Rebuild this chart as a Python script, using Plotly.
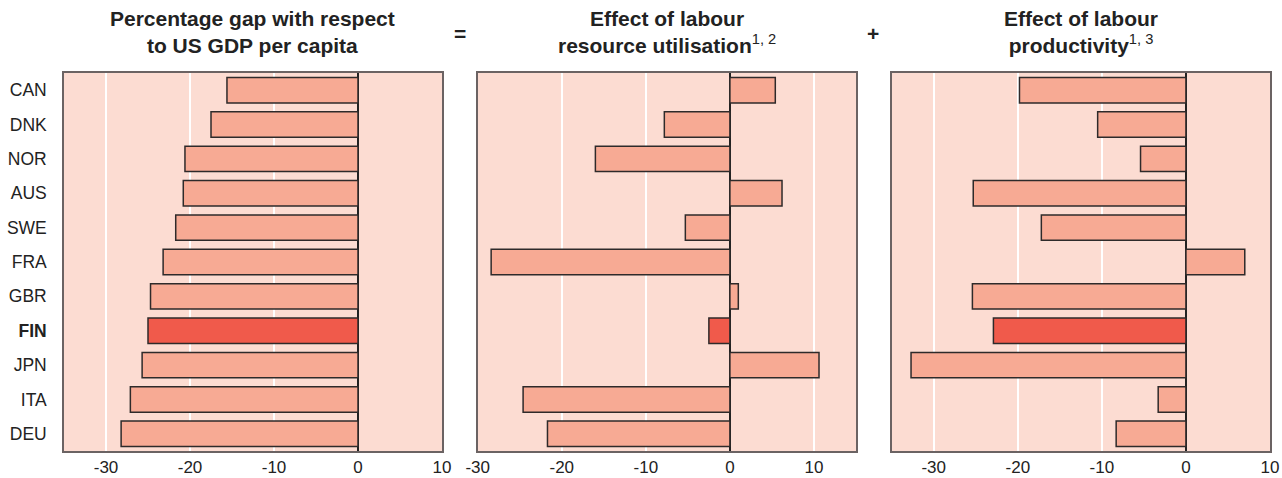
import plotly.graph_objects as go

countries = ["CAN", "DNK", "NOR", "AUS", "SWE", "FRA", "GBR", "FIN", "JPN", "ITA", "DEU"]
gdp_gap = [-15.6, -17.5, -20.6, -20.8, -21.7, -23.2, -24.7, -25.0, -25.7, -27.1, -28.2]
labour_util = [5.4, -7.8, -16.0, 6.2, -5.3, -28.4, 1.0, -2.5, 10.6, -24.6, -21.7]
labour_prod = [-19.8, -10.5, -5.4, -25.3, -17.2, 7.0, -25.4, -22.9, -32.7, -3.3, -8.3]
highlight = "FIN"
x_ticks = [-30, -20, -10, 0, 10]
titles = ["Percentage gap with respect<br>to US GDP per capita",
          "Effect of labour<br>resource utilisation<sup><span style='font-weight:normal'>1, 2</span></sup>",
          "Effect of labour<br>productivity<sup><span style='font-weight:normal'>1, 3</span></sup>"]
operators = ["=", "+"]

W, H = 1282, 478
ML, MR, MT, MB = 64, 12, 73, 27
PW, PH = W - ML - MR, H - MT - MB

def px(x):
    return (x - ML) / PW

def py(y):
    return 1 - (y - MT) / PH

BG = "#FCDCD2"
BAR = "#F7AA94"
HL = "#F05A4B"
FONT = "Liberation Sans, Arial, sans-serif"

panels = [(63.7, 442.0, [-35, 10], gdp_gap),
          (477.7, 856.0, [-30, 15], labour_util),
          (891.7, 1270.0, [-35, 10], labour_prod)]

fig = go.Figure()
colors = [HL if c == highlight else BAR for c in countries]
ticktext_y = ["<b>%s</b>" % c if c == highlight else c for c in countries]

for i, (x0, x1, rng, vals) in enumerate(panels):
    sfx = "" if i == 0 else str(i + 1)
    fig.add_trace(go.Bar(
        x=vals, y=countries, orientation="h",
        marker=dict(color=colors, line=dict(color="#2e2a2a", width=1.5)),
        xaxis="x" + sfx, yaxis="y" + sfx, showlegend=False, hoverinfo="x+y"))
    fig.layout["xaxis" + sfx] = dict(
        domain=[max(0, px(x0)), min(1, px(x1))], range=rng, anchor="y" + sfx,
        tickvals=x_ticks, ticktext=[str(t) for t in x_ticks], automargin=False,
        showgrid=True, gridcolor="white", gridwidth=1.5,
        zeroline=True, zerolinecolor="#222222", zerolinewidth=1.5,
        showline=True, linecolor="#6b6363", linewidth=1.5, mirror=True,
        ticks="",
        tickfont=dict(family=FONT, size=17, color="#222222"), fixedrange=True)
    fig.layout["yaxis" + sfx] = dict(
        domain=[0, 1], anchor="x" + sfx, automargin=False,
        categoryorder="array", categoryarray=countries, autorange="reversed",
        tickvals=countries, ticktext=ticktext_y, showticklabels=(i == 0),
        showgrid=False, zeroline=False,
        showline=True, linecolor="#6b6363", linewidth=1.5, mirror=True,
        ticks="", ticklabelstandoff=12,
        tickfont=dict(family=FONT, size=17.5, color="#222222"), fixedrange=True)
    fig.add_shape(type="rect", xref="x" + sfx + " domain", yref="y" + sfx + " domain",
                  x0=0, x1=1, y0=0, y1=1, fillcolor=BG, line_width=0, layer="below")
    fig.add_annotation(text=titles[i], x=px((x0 + x1) / 2), y=py(32),
                       xref="paper", yref="paper", xanchor="center", yanchor="middle",
                       showarrow=False, align="center",
                       font=dict(family=FONT, size=21, color="#222222", weight="bold"))

for op, xp in zip(operators, [460, 873]):
    fig.add_annotation(text="<b>%s</b>" % op, x=px(xp), y=py(33), xref="paper", yref="paper",
                       xanchor="center", yanchor="middle", showarrow=False,
                       font=dict(family=FONT, size=21, color="#222222"))

fig.update_layout(width=W, height=H, margin=dict(l=ML, r=MR, t=MT, b=MB),
                  paper_bgcolor="white", plot_bgcolor="rgba(0,0,0,0)",
                  bargap=0.26, font=dict(family=FONT), template="none")

fig.write_html("out.html", config={"displayModeBar": False},
               post_script="document.body.style.margin='0';document.body.style.overflow='hidden';")
